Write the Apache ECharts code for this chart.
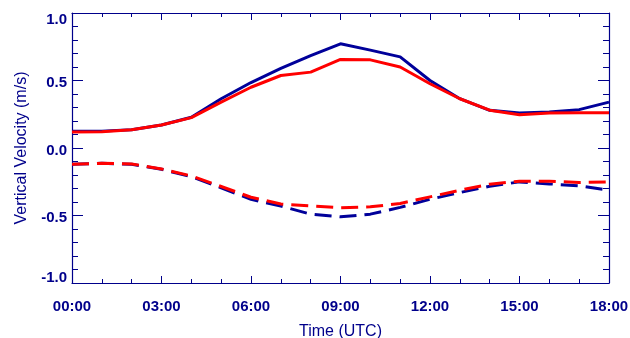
<!DOCTYPE html>
<html>
<head>
<meta charset="utf-8">
<script src="https://cdn.jsdelivr.net/npm/echarts@6/dist/echarts.min.js"></script>
<style>
  html, body { margin: 0; padding: 0; background: #fff; }
  #chart { width: 630px; height: 338px; }
</style>
</head>
<body>
<div id="chart"></div>
<script>
// Hours since 00:00 UTC
const hours = [0, 1, 2, 3, 4, 5, 6, 7, 8, 9, 10, 11, 12, 13, 14, 15, 16, 17, 18];

// Upward (solid) and downward (dashed) vertical velocity, m/s
const blueUp = [0.125, 0.125, 0.135, 0.17, 0.228, 0.365, 0.485, 0.59, 0.685, 0.772, 0.725, 0.675, 0.50, 0.365, 0.279, 0.259, 0.266, 0.284, 0.34];
const redUp = [0.118, 0.12, 0.135, 0.17, 0.225, 0.34, 0.45, 0.537, 0.562, 0.656, 0.653, 0.60, 0.476, 0.365, 0.28, 0.247, 0.259, 0.261, 0.262];
const blueDown = [-0.12, -0.113, -0.12, -0.158, -0.212, -0.295, -0.38, -0.43, -0.49, -0.51, -0.49, -0.44, -0.38, -0.33, -0.283, -0.251, -0.266, -0.28, -0.313];
const redDown = [-0.12, -0.113, -0.118, -0.155, -0.207, -0.285, -0.365, -0.415, -0.428, -0.443, -0.436, -0.411, -0.362, -0.313, -0.268, -0.246, -0.246, -0.256, -0.251];

const NAVY = '#00008b';
const BLUE = '#00009a';
const RED = '#ff0000';
const FONT = 'Liberation Sans, Arial, sans-serif';

const pair = vals => hours.map((h, i) => [h, vals[i]]);

// Frame axes: all four sides carry inward ticks, none pinned to zero
const xBase = {
  type: 'value', min: 0, max: 18, interval: 3,
  axisLine: { show: true, onZero: false, lineStyle: { color: NAVY, width: 1.2 } },
  axisTick: { show: true, inside: true, length: 7, lineStyle: { color: NAVY } },
  minorTick: { show: true, splitNumber: 3, length: 4, lineStyle: { color: NAVY } },
  splitLine: { show: false }
};
const yBase = {
  type: 'value', min: -1, max: 1, interval: 0.5,
  axisLine: { show: true, onZero: false, lineStyle: { color: NAVY, width: 1.2 } },
  axisTick: { show: true, inside: true, length: 11, lineStyle: { color: NAVY } },
  minorTick: { show: true, splitNumber: 5, length: 6, lineStyle: { color: NAVY } },
  splitLine: { show: false }
};

// Y labels sit a little below their ticks; the end labels are tucked inside the frame
const yLabelStyle = { color: NAVY, fontFamily: FONT, fontSize: 15, fontWeight: 'bold' };
const yRich = {
  mid: Object.assign({ padding: [5, 0, 0, 0] }, yLabelStyle),
  hi: Object.assign({ padding: [14, 0, 0, 0] }, yLabelStyle),
  lo: Object.assign({ padding: [0, 0, 11, 0] }, yLabelStyle)
};

const chart = echarts.init(document.getElementById('chart'), null, { renderer: 'canvas' });
chart.setOption({
  animation: false,
  backgroundColor: '#fff',
  grid: { left: 72, right: 21, top: 13, bottom: 55, containLabel: false, outerBoundsMode: 'none' },
  xAxis: [
    Object.assign({}, xBase, {
      position: 'bottom',
      name: 'Time (UTC)', nameLocation: 'middle', nameGap: 41,
      nameTextStyle: { color: NAVY, fontFamily: FONT, fontSize: 16 },
      axisLabel: {
        color: NAVY, fontFamily: FONT, fontSize: 15, fontWeight: 'bold', margin: 16,
        formatter: v => String(v).padStart(2, '0') + ':00'
      }
    }),
    Object.assign({}, xBase, { position: 'top', axisLabel: { show: false } })
  ],
  yAxis: [
    Object.assign({}, yBase, {
      position: 'left',
      name: 'Vertical Velocity (m/s)', nameLocation: 'middle', nameGap: 42,
      nameTextStyle: { color: NAVY, fontFamily: FONT, fontSize: 16 },
      axisLabel: {
        color: NAVY, fontFamily: FONT, fontSize: 15, fontWeight: 'bold', margin: 5,
        rich: yRich,
        formatter: v => {
          const key = v >= 1 ? 'hi' : (v <= -1 ? 'lo' : 'mid');
          return '{' + key + '|' + v.toFixed(1) + '}';
        }
      }
    }),
    Object.assign({}, yBase, { position: 'right', axisLabel: { show: false } })
  ],
  series: [
    { type: 'line', data: pair(blueUp), symbol: 'none', lineStyle: { color: BLUE, width: 3 } },
    { type: 'line', data: pair(blueDown), symbol: 'none', lineStyle: { color: BLUE, width: 3, type: [17, 8] } },
    { type: 'line', data: pair(redUp), symbol: 'none', lineStyle: { color: RED, width: 3 } },
    { type: 'line', data: pair(redDown), symbol: 'none', lineStyle: { color: RED, width: 3, type: [17, 8] } }
  ]
});
</script>
</body>
</html>
